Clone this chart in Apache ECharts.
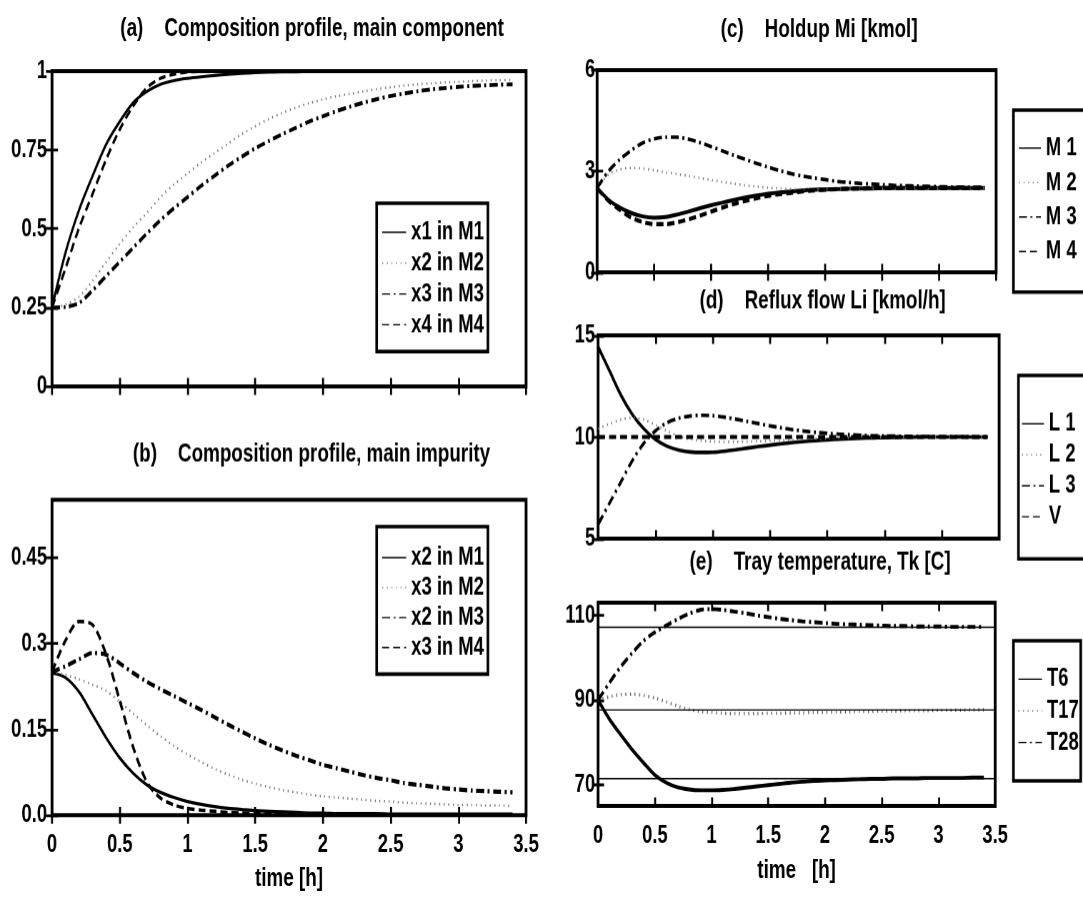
<!DOCTYPE html>
<html><head><meta charset="utf-8">
<script src="https://cdn.jsdelivr.net/npm/echarts@6/dist/echarts.min.js"></script>
<style>
html,body{margin:0;padding:0;background:#fff;overflow:hidden}
#wrap{width:1083px;height:903px;overflow:hidden;position:relative;background:#fff}
#c{width:1083px;height:645px;transform:scaleY(1.4);transform-origin:0 0}
</style></head>
<body><div id="wrap"><div id="c"></div></div>
<script>
// ---------------- data ----------------
const time = [0,0.1,0.2,0.3,0.4,0.5,0.6,0.7,0.8,0.9,1.0,1.1,1.2,1.3,1.4,1.5,1.6,1.7,1.8,1.9,2.0,2.1,2.2,2.3,2.4,2.5,2.6,2.7,2.8,2.9,3.0,3.1,3.2,3.3,3.4];

const xTicks = [0,0.5,1,1.5,2,2.5,3,3.5];
const xTickLabels = ['0','0.5','1','1.5','2','2.5','3','3.5'];
const aTicks = [0,0.25,0.5,0.75,1];
const aTickLabels = ['0','0.25','0.5','0.75','1'];
const bTicks = [0,0.15,0.3,0.45];
const bTickLabels = ['0.0','0.15','0.3','0.45'];
const cTicks = [0,3,6];
const cTickLabels = ['0','3','6'];
const dTicks = [5,10,15];
const dTickLabels = ['5','10','15'];
const eTicks = [70,90,110];
const eTickLabels = ['70','90','110'];
const eRefLines = [107.3,87.7,71.7];

// (a) main component
const a_x1M1 = [0.25,0.425,0.56,0.668,0.768,0.84,0.90,0.935,0.958,0.97,0.977,0.982,0.986,0.99,0.993,0.995,0.997,0.998,0.998,0.999,0.999,0.999,0.999,1,1,1,1,1,1,1,1,1,1,1,1];
const a_x2M2 = [0.25,0.26,0.285,0.335,0.395,0.452,0.505,0.55,0.60,0.64,0.675,0.71,0.74,0.77,0.80,0.825,0.848,0.867,0.884,0.898,0.91,0.92,0.928,0.936,0.943,0.949,0.954,0.958,0.961,0.964,0.966,0.968,0.970,0.971,0.972];
const a_x3M3 = [0.25,0.252,0.265,0.305,0.35,0.395,0.44,0.485,0.527,0.565,0.60,0.636,0.668,0.70,0.728,0.755,0.778,0.80,0.82,0.84,0.857,0.873,0.887,0.90,0.911,0.921,0.929,0.936,0.942,0.946,0.95,0.953,0.955,0.957,0.958];
const a_x4M4 = [0.25,0.375,0.503,0.611,0.72,0.815,0.89,0.947,0.977,0.99,0.997,0.999,1,1,1,1,1,1,1,1,1,1,1,1,1,1,1,1,1,1,1,1,1,1,1];

// (b) main impurity
const b_x2M1 = [0.248,0.24,0.215,0.175,0.135,0.10,0.073,0.053,0.04,0.031,0.024,0.019,0.015,0.012,0.01,0.008,0.007,0.006,0.005,0.004,0.004,0.003,0.003,0.003,0.003,0.002,0.002,0.002,0.002,0.002,0.002,0.002,0.002,0.002,0.002];
const b_x3M2 = [0.25,0.245,0.237,0.228,0.217,0.198,0.177,0.157,0.138,0.121,0.106,0.093,0.081,0.071,0.062,0.055,0.049,0.044,0.04,0.036,0.033,0.031,0.029,0.027,0.025,0.024,0.022,0.021,0.02,0.019,0.018,0.018,0.017,0.017,0.016];
const b_x2M3 = [0.25,0.26,0.272,0.283,0.28,0.265,0.248,0.233,0.22,0.208,0.196,0.184,0.171,0.158,0.146,0.134,0.123,0.113,0.104,0.096,0.088,0.082,0.076,0.07,0.065,0.061,0.056,0.053,0.05,0.047,0.045,0.043,0.042,0.041,0.04];
const b_x3M4 = [0.25,0.305,0.338,0.332,0.28,0.2,0.118,0.058,0.03,0.018,0.012,0.009,0.007,0.005,0.004,0.003,0.0025,0.002,0.002,0.0015,0.0015,0.001,0.001,0.001,0.001,0.001,0.001,0.001,0.001,0.001,0.001,0.001,0.001,0.001,0.001];

// (c) holdup
const c_M1 = [2.5,2.15,1.92,1.76,1.66,1.62,1.64,1.71,1.8,1.9,1.99,2.07,2.15,2.22,2.28,2.33,2.37,2.4,2.43,2.45,2.46,2.47,2.48,2.49,2.49,2.5,2.5,2.5,2.5,2.5,2.5,2.5,2.5,2.5,2.5];
const c_M2 = [2.5,2.9,3.05,3.1,3.08,3.03,2.97,2.92,2.86,2.8,2.74,2.68,2.63,2.58,2.54,2.51,2.49,2.47,2.46,2.46,2.46,2.47,2.47,2.48,2.48,2.49,2.49,2.49,2.5,2.5,2.5,2.5,2.5,2.5,2.5];
const c_M3 = [2.5,3.0,3.35,3.62,3.84,3.96,4.01,4.01,3.95,3.85,3.73,3.6,3.47,3.35,3.23,3.12,3.02,2.93,2.86,2.8,2.75,2.7,2.67,2.64,2.62,2.6,2.58,2.57,2.56,2.55,2.54,2.53,2.53,2.52,2.52];
const c_M4 = [2.5,2.12,1.85,1.62,1.49,1.43,1.43,1.48,1.57,1.68,1.8,1.92,2.03,2.12,2.2,2.27,2.32,2.36,2.4,2.43,2.45,2.47,2.48,2.49,2.5,2.5,2.5,2.5,2.5,2.5,2.5,2.5,2.5,2.5,2.5];

// (d) reflux flow
const d_L1 = [14.45,13.25,12.05,11.1,10.4,9.88,9.55,9.36,9.27,9.24,9.25,9.3,9.37,9.45,9.53,9.6,9.67,9.73,9.78,9.82,9.86,9.89,9.92,9.94,9.96,9.97,9.98,9.99,10,10,10,10,10,10,10];
const d_L2 = [10.4,10.65,10.85,10.95,10.85,10.6,10.3,10.05,9.9,9.82,9.78,9.76,9.76,9.77,9.79,9.81,9.84,9.86,9.89,9.91,9.93,9.95,9.96,9.97,9.98,9.99,10,10,10,10,10,10,10,10,10];
const d_L3 = [5.7,6.75,7.8,8.85,9.7,10.3,10.7,10.92,11.03,11.07,11.05,10.98,10.88,10.77,10.66,10.55,10.45,10.36,10.29,10.23,10.18,10.14,10.11,10.08,10.06,10.05,10.04,10.03,10.02,10.02,10.01,10.01,10.01,10,10];
const d_V  = [10,10,10,10,10,10,10,10,10,10,10,10,10,10,10,10,10,10,10,10,10,10,10,10,10,10,10,10,10,10,10,10,10,10,10];

// (e) tray temperature
const e_T6  = [90,85.5,81.8,78.3,75.2,72.3,70.5,69.4,68.9,68.7,68.7,68.8,69.0,69.3,69.6,69.9,70.2,70.5,70.7,70.9,71.0,71.1,71.2,71.3,71.4,71.4,71.5,71.5,71.5,71.6,71.6,71.6,71.6,71.7,71.7];
const e_T17 = [90,90.8,91.3,91.4,91.1,90.5,89.6,88.6,87.8,87.3,87.1,86.9,86.8,86.8,86.8,86.9,86.9,87.0,87.0,87.1,87.1,87.2,87.2,87.3,87.3,87.4,87.4,87.5,87.5,87.5,87.6,87.6,87.6,87.7,87.7];
const e_T28 = [90,94.1,97.9,101.1,104.0,106.0,107.6,109.1,110.4,111.3,111.5,111.3,110.9,110.5,110.0,109.6,109.2,108.9,108.6,108.4,108.2,108.0,107.9,107.8,107.7,107.6,107.5,107.5,107.4,107.4,107.4,107.3,107.3,107.3,107.3];

// ---------------- styling / layout ----------------
const K = 1.4;                 // vertical stretch of the whole figure
const Y = v => v / K;
function hasFont(f){
  const c = document.createElement('canvas').getContext('2d');
  c.font = 'bold 40px monospace';
  const a = c.measureText('Composition profile 0.75').width;
  c.font = 'bold 40px "' + f + '", monospace';
  return Math.abs(c.measureText('Composition profile 0.75').width - a) > 0.5;
}
const NARROW = hasFont('Liberation Sans Narrow');
const FF = NARROW ? '"Liberation Sans Narrow", sans-serif' : '"Liberation Sans", Arial, sans-serif';
const FS = NARROW ? 1 : 0.82;
const txt = (size, extra) => Object.assign({color:'#000', fontWeight:'bold', fontFamily:FF, fontSize:size*FS}, extra||{});

const solid   = w => ({color:'#000', width:w, type:'solid'});
const dotted  = (w,c) => ({color:c||'#777', width:w, type:[1,3.6], cap:'butt'});
const dashdot = w => ({color:'#000', width:w, type:[8,3.5,2,3.5]});
const dashed  = w => ({color:'#000', width:w, type:[7,4]});

const fmt = (ticks, labels) => v => {
  const i = ticks.findIndex(x => Math.abs(x - v) < 1e-6);
  return i < 0 ? '' : labels[i];
};

const grids = [
  {left:52,  top:Y(71),    width:474, height:Y(315)},
  {left:52,  top:Y(499.3), width:474, height:Y(315)},
  {left:597, top:Y(70),    width:399, height:Y(202)},
  {left:598, top:Y(335),   width:401, height:Y(203)},
  {left:598, top:Y(602),   width:397, height:Y(203)}
].map(g => Object.assign(g, {show:true, borderColor:'#000', borderWidth:2.8, backgroundColor:'transparent', containLabel:false, outerBoundsMode:'none'}));

const xAxes = [], yAxes = [];
const tickStyle = {show:true, inside:true, length:6, lineStyle:{color:'#000', width:2}};
function axesFor(gi, yMin, yMax, yTicks, yLabels, o){
  xAxes.push({gridIndex:gi, type:'value', min:0, max:3.5, position:'bottom',
    axisLine:{show:false}, splitLine:{show:false},
    axisTick:Object.assign({customValues:xTicks}, tickStyle),
    axisLabel:Object.assign({show:!!o.xLabels, customValues:xTicks, formatter:fmt(xTicks,xTickLabels), margin:o.xMargin||8}, txt(22.5)),
    name:o.xName||'', nameLocation:'middle', nameGap:o.nameGap||36, nameTextStyle:txt(23)});
  xAxes.push({gridIndex:gi, type:'value', min:0, max:3.5, position:'top',
    axisLine:{show:false}, splitLine:{show:false},
    axisTick:Object.assign({customValues:xTicks}, tickStyle), axisLabel:{show:false}});
  yAxes.push({gridIndex:gi, type:'value', min:yMin, max:yMax, position:'left',
    axisLine:{show:false}, splitLine:{show:false},
    axisTick:Object.assign({customValues:yTicks}, tickStyle),
    axisLabel:Object.assign({customValues:yTicks, formatter:fmt(yTicks,yLabels), margin:o.yMargin}, txt(22.5))});
  yAxes.push({gridIndex:gi, type:'value', min:yMin, max:yMax, position:'right',
    axisLine:{show:false}, splitLine:{show:false},
    axisTick:Object.assign({customValues:yTicks}, tickStyle), axisLabel:{show:false}});
}
axesFor(0, 0, 1, aTicks, aTickLabels, {yMargin:5});
axesFor(1, 0, 0.55, bTicks, bTickLabels, {yMargin:5, xLabels:true, xMargin:12, xName:'time [h]', nameGap:36});
axesFor(2, 0, 6, cTicks, cTickLabels, {yMargin:2});
axesFor(3, 5, 15, dTicks, dTickLabels, {yMargin:3});
axesFor(4, 65, 113, eTicks, eTickLabels, {yMargin:3, xLabels:true, xMargin:12, xName:'time   [h]', nameGap:37});

function S(name, gi, vals, style, extra){
  return Object.assign({name, type:'line', xAxisIndex:2*gi, yAxisIndex:2*gi,
    data: time.map((x,i) => [x, vals[i]]), symbol:'none', showSymbol:false,
    smooth:0.3, lineStyle:style, itemStyle:{color:style.color},
    silent:true, animation:false}, extra||{});
}

const series = [
  S('x1 in M1', 0, a_x1M1, solid(2.2)),
  S('x2 in M2', 0, a_x2M2, dotted(1.8)),
  S('x3 in M3', 0, a_x3M3, dashdot(2.8)),
  S('x4 in M4', 0, a_x4M4, dashed(2.3)),

  S('x2 in M1', 1, b_x2M1, solid(2.3)),
  S('x3 in M2', 1, b_x3M2, dotted(1.8)),
  S('x2 in M3', 1, b_x2M3, dashdot(3)),
  S('x3 in M4', 1, b_x3M4, dashed(2.5)),

  S('M 1', 2, c_M1, solid(2.8)),
  S('M 2', 2, c_M2, dotted(1.8)),
  S('M 3', 2, c_M3, dashdot(2.6)),
  S('M 4', 2, c_M4, dashed(3)),

  S('L 1', 3, d_L1, solid(2.6)),
  S('L 2', 3, d_L2, dotted(1.8)),
  S('L 3', 3, d_L3, dashdot(2.6)),
  S('V',   3, d_V,  dashed(3), {smooth:false}),

  S('T6',  4, e_T6,  solid(2.8), {markLine:{symbol:'none', silent:true, animation:false,
      label:{show:false}, lineStyle:{color:'#000', width:1, type:'solid'},
      data: eRefLines.map(v => ({yAxis:v}))}}),
  S('T17', 4, e_T17, dotted(2.4,'#666')),
  S('T28', 4, e_T28, dashdot(2.8))
];

function L(names, left, top, pad, gap, iw, fs, border){
  return {orient:'vertical', left, top:Y(top), padding:pad, itemGap:gap, itemWidth:iw, itemHeight:18,
    borderColor:'#000', borderWidth:border === false ? 0 : 2.6, backgroundColor:border === false ? 'transparent' : '#fff',
    selectedMode:false, align:'left',
    textStyle:txt(fs, {lineHeight:18}), lineStyle:{width:1}, itemStyle:{opacity:0},
    data:names};
}
const legends = [
  L(['x1 in M1','x2 in M2','x3 in M3','x4 in M4'], 376.6, 203, [11.7,4,10.1,5], 4, 24, 22.5),
  L(['x2 in M1','x3 in M2','x2 in M3','x3 in M4'], 376.6, 526, [13.1,4,10,5], 3.4, 24, 22.5),
  L(['M 1','M 2','M 3','M 4'], 1013.3, 110, [18.1,2,19.6,5], 6.6, 22, 22.5, false),
  L(['L 1','L 2','L 3','V'], 1018.3, 375, [25.5,2,20.7,3], 4.1, 22, 22.5, false),
  L(['T6','T17','T28'], 1013.3, 640, [18.4,2,18.4,4.5], 4.6, 23.5, 22.5)
];
// legend frames of (c) and (d) run past the right edge of the figure
const legendFrames = [
  {left:1013.3, top:110, h:181.7},
  {left:1018.3, top:375, h:183.3}
];
const graphics = legendFrames.map(f => ({type:'rect', silent:true, z:1,
  shape:{x:f.left, y:Y(f.top), width:120, height:Y(f.h)},
  style:{fill:'#fff', stroke:'#000', lineWidth:2.6}}));

const T = (text, cx, cy) => ({text, left:cx, top:Y(cy), textAlign:'center', textVerticalAlign:'middle', padding:0, textStyle:txt(23)});
const titles = [
  T('(a)    Composition profile, main component', 312, 29),
  T('(b)    Composition profile, main impurity', 311.5, 453.3),
  T('(c)    Holdup Mi [kmol]', 819, 30),
  T('(d)    Reflux flow Li [kmol/h]', 822.5, 301),
  T('(e)    Tray temperature, Tk [C]', 820, 561.7)
];

const chart = echarts.init(document.getElementById('c'), null, {renderer:'canvas', devicePixelRatio:K});
chart.setOption({
  animation:false,
  backgroundColor:'#fff',
  title:titles,
  legend:legends,
  grid:grids,
  xAxis:xAxes,
  yAxis:yAxes,
  graphic:graphics,
  series:series
});
</script>
</body></html>
